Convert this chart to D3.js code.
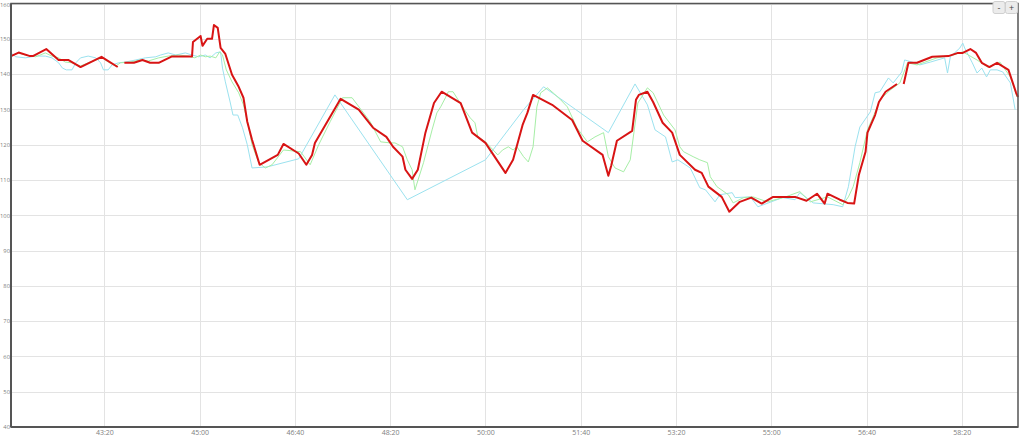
<!DOCTYPE html>
<html><head><meta charset="utf-8">
<script src="https://cdn.jsdelivr.net/npm/d3@7/dist/d3.min.js"></script>
<style>
html,body{margin:0;padding:0;background:#fff;overflow:hidden}
svg{display:block}
.btn{font-family:"Open Sans",sans-serif;font-size:9px}
</style></head><body>
<svg id="chart" width="1024" height="438"></svg>
<script>
// time in seconds (mm:ss labels), values in series units
const xDomain = [2502, 3559];
const yDomain = [40, 160];
const yTicks = [40,50,60,70,80,90,100,110,120,130,140,150,160];
const xTicks = [2600,2700,2800,2900,3000,3100,3200,3300,3400,3500];

const redSeries = [[2502,145.1],[2510,146.1],[2522,145.1],[2525,145.1],[2539,147.1],[2552,144.0],[2562,144.0],[2575,142.0],[2597,144.9],[2614,142.0],[2617,null],
[2621,143.2],[2631,143.2],[2640,144.0],[2648,143.2],[2657,143.2],[2671,145.0],[2692,145.0],[2693,149.1],[2701,150.8],[2703,148.0],[2708,150.0],[2713,150.0],[2715,153.9],[2719,153.1],[2722,147.4],[2727,145.7],[2734,139.8],[2741,136.4],[2746,133.3],[2750,126.5],[2755,121.4],[2763,114.3],[2782,117.1],[2788,120.2],[2804,117.5],[2812,114.3],[2818,117.1],[2821,120.5],[2848,133.0],[2867,129.9],[2882,124.8],[2896,122.2],[2903,119.4],[2913,116.6],[2916,112.9],[2923,110.3],[2929,112.9],[2937,123.4],[2946,131.8],[2954,135.0],[2974,131.8],[2986,123.4],[3000,120.5],[3021,112.0],[3029,115.7],[3039,125.6],[3044,129.0],[3050,134.1],[3070,131.3],[3091,127.0],[3102,121.1],[3123,117.1],[3129,111.2],[3132,114.0],[3138,121.1],[3154,123.9],[3158,132.7],[3161,134.1],[3170,135.0],[3176,132.1],[3186,126.2],[3196,123.4],[3204,117.1],[3220,112.9],[3227,112.0],[3234,108.1],[3248,105.2],[3256,101.0],[3267,103.8],[3279,105.0],[3290,103.3],[3302,105.2],[3325,105.2],[3337,104.1],[3348,106.1],[3356,103.3],[3359,106.1],[3372,104.4],[3380,103.5],[3387,103.3],[3392,111.5],[3399,118.0],[3401,123.4],[3409,128.4],[3413,132.1],[3420,135.0],[3432,137.2],[3435,null],
[3439,137.2],[3444,143.2],[3453,143.2],[3469,144.9],[3486,145.1],[3496,146.0],[3501,146.0],[3509,147.1],[3515,146.0],[3521,143.2],[3529,142.0],[3537,143.2],[3549,141.2],[3557,134.7],[3559,133.5]];

const greenSeries = [[2502,145.1],[2510,146.0],[2517,145.4],[2528,144.9],[2538,146.0],[2545,145.1],[2552,144.6],[2559,143.4],[2566,143.2],[2575,142.3],[2583,143.2],[2591,144.0],[2598,144.6],[2604,143.4],[2612,142.3],[2617,143.2],[2627,143.4],[2638,144.0],[2646,143.7],[2657,144.6],[2667,145.1],[2678,145.4],[2688,145.1],[2695,144.6],[2701,145.4],[2706,144.9],[2711,145.1],[2717,144.6],[2721,146.3],[2724,145.4],[2728,141.2],[2734,137.8],[2741,134.7],[2746,131.3],[2751,125.6],[2755,120.0],[2762,114.9],[2769,113.4],[2776,114.3],[2788,118.5],[2806,118.0],[2816,114.3],[2825,120.0],[2837,126.5],[2850,133.3],[2860,133.3],[2879,126.5],[2890,120.8],[2900,120.5],[2905,120.5],[2913,119.4],[2918,115.7],[2923,112.9],[2926,107.2],[2935,114.9],[2944,124.2],[2949,129.0],[2953,130.7],[2958,133.3],[2961,135.0],[2966,135.0],[2976,130.7],[2984,127.6],[2989,126.2],[2992,122.2],[3000,120.8],[3013,117.1],[3018,118.5],[3024,119.4],[3029,118.5],[3033,119.4],[3040,116.6],[3045,115.1],[3050,119.4],[3054,130.7],[3058,134.7],[3065,136.1],[3071,134.7],[3079,132.7],[3086,130.7],[3096,124.8],[3107,120.8],[3115,122.2],[3124,123.4],[3129,116.6],[3136,113.4],[3145,112.3],[3152,115.7],[3160,131.8],[3170,136.1],[3176,134.7],[3187,128.4],[3199,124.2],[3204,119.4],[3208,118.0],[3218,116.6],[3225,115.7],[3233,114.9],[3236,110.9],[3243,108.1],[3255,105.8],[3260,103.5],[3271,105.0],[3281,105.2],[3296,103.8],[3315,105.2],[3330,106.7],[3341,103.8],[3359,105.2],[3375,103.0],[3381,105.2],[3386,108.1],[3393,114.9],[3401,124.2],[3407,127.9],[3414,132.7],[3425,135.5],[3435,137.5],[3443,143.2],[3453,142.6],[3474,144.6],[3491,145.4],[3501,146.3],[3516,144.0],[3527,142.0],[3540,143.4],[3551,139.2],[3558,133.5]];

const cyanSeries = [[2502,146.0],[2507,144.9],[2517,144.6],[2528,145.1],[2538,145.1],[2545,144.6],[2552,143.2],[2556,141.7],[2560,141.2],[2566,141.2],[2570,143.2],[2575,144.6],[2583,145.1],[2591,144.6],[2596,143.2],[2599,141.2],[2604,141.2],[2608,142.6],[2615,143.2],[2622,143.4],[2633,144.0],[2643,144.6],[2654,144.9],[2659,145.4],[2667,146.0],[2675,145.4],[2685,146.0],[2692,145.4],[2699,144.9],[2706,145.4],[2711,144.6],[2717,146.0],[2722,146.3],[2724,141.7],[2727,137.8],[2732,132.1],[2735,128.4],[2740,128.4],[2745,124.8],[2750,120.0],[2755,113.4],[2771,113.7],[2804,116.0],[2842,134.1],[2918,104.4],[3000,115.7],[3040,129.9],[3061,136.4],[3129,123.4],[3157,137.2],[3170,131.3],[3178,124.2],[3189,122.2],[3196,115.1],[3202,115.7],[3215,113.4],[3225,107.8],[3231,107.2],[3241,103.8],[3246,105.8],[3259,106.4],[3262,105.0],[3278,105.2],[3286,102.4],[3312,105.0],[3325,104.4],[3330,106.4],[3344,103.5],[3365,103.0],[3375,102.4],[3381,108.1],[3388,119.4],[3393,125.0],[3404,129.3],[3409,134.7],[3414,135.0],[3423,138.9],[3428,137.5],[3437,140.6],[3440,144.0],[3448,143.4],[3456,142.6],[3467,143.4],[3482,144.6],[3485,140.3],[3488,144.9],[3498,147.4],[3501,148.8],[3503,147.4],[3511,143.2],[3516,140.3],[3521,141.7],[3526,139.2],[3530,141.2],[3537,141.2],[3543,140.6],[3551,137.5],[3556,129.9]];

const margin = {left: 11, right: 6, top: 3.5, bottom: 11};
const W = 1024, H = 438;
const svg = d3.select("#chart");
const x = d3.scaleLinear().domain(xDomain).range([margin.left, W - margin.right]);
const y = d3.scaleLinear().domain(yDomain).range([H - margin.bottom, margin.top]);
const fmt = s => { const m = Math.floor(s/60) % 60, ss = Math.round(s % 60); return m + ":" + String(ss).padStart(2,"0"); };

// grid
svg.append("g").selectAll("line").data(yTicks).join("line")
  .attr("x1", margin.left).attr("x2", W - margin.right)
  .attr("y1", d => Math.round(y(d)) + 0.5).attr("y2", d => Math.round(y(d)) + 0.5)
  .attr("stroke", "#e3e3e3").attr("stroke-width", 1);
svg.append("g").selectAll("line").data(xTicks).join("line")
  .attr("y1", margin.top).attr("y2", H - margin.bottom)
  .attr("x1", d => Math.round(x(d)) + 0.5).attr("x2", d => Math.round(x(d)) + 0.5)
  .attr("stroke", "#e3e3e3").attr("stroke-width", 1);

// axes
const yAxis = d3.axisLeft(y).tickValues(yTicks).tickSize(0).tickPadding(1);
const gy = svg.append("g").attr("transform", `translate(${margin.left},0)`).call(yAxis);
gy.select(".domain").remove();
gy.selectAll("text").attr("font-family", "'Open Sans', sans-serif").attr("font-size", 5.8).attr("fill", "#808080")
  .attr("dy", d => d === 160 ? "0.45em" : "0.32em");

const xAxis = d3.axisBottom(x).tickValues(xTicks).tickFormat(fmt).tickSize(0).tickPadding(3);
const gx = svg.append("g").attr("transform", `translate(0,${H - margin.bottom})`).call(xAxis);
gx.select(".domain").remove();
gx.selectAll("text").attr("font-family", "'Open Sans', sans-serif").attr("font-size", 7).attr("fill", "#808080");

// lines
const line = d3.line().defined(d => d[1] != null).x(d => x(d[0])).y(d => y(d[1]));
svg.append("path").datum(cyanSeries).attr("d", line).attr("fill", "none")
  .attr("stroke", "#9be2ef").attr("stroke-width", 1);
svg.append("path").datum(greenSeries).attr("d", line).attr("fill", "none")
  .attr("stroke", "#a6eea6").attr("stroke-width", 1);
svg.append("path").datum(redSeries).attr("d", line).attr("fill", "none")
  .attr("stroke", "#d81414").attr("stroke-width", 2).attr("stroke-linejoin", "round");

// frame
svg.append("rect").attr("x", margin.left).attr("y", margin.top)
  .attr("width", W - margin.right - margin.left).attr("height", H - margin.bottom - margin.top)
  .attr("fill", "none").attr("stroke", "#555").attr("stroke-width", 1.5);
svg.append("line").attr("x1", margin.left).attr("x2", margin.left).attr("y1", margin.top).attr("y2", H - margin.bottom)
  .attr("stroke", "#555").attr("stroke-width", 2);
svg.append("line").attr("x1", margin.left).attr("x2", W - margin.right).attr("y1", H - margin.bottom).attr("y2", H - margin.bottom)
  .attr("stroke", "#555").attr("stroke-width", 2);

// zoom buttons
const btns = ["-", "+"];
const bg = svg.append("g").attr("class", "btn");
btns.forEach((b, i) => {
  const bx = 993 + i * 12.5;
  bg.append("rect").attr("x", bx).attr("y", 1.5).attr("width", 12).attr("height", 12).attr("rx", 2)
    .attr("fill", "#ececec").attr("stroke", "#d0d0d0");
  bg.append("text").attr("x", bx + 6).attr("y", 10.5).attr("text-anchor", "middle").attr("fill", "#444").text(b);
});
</script></body></html>
